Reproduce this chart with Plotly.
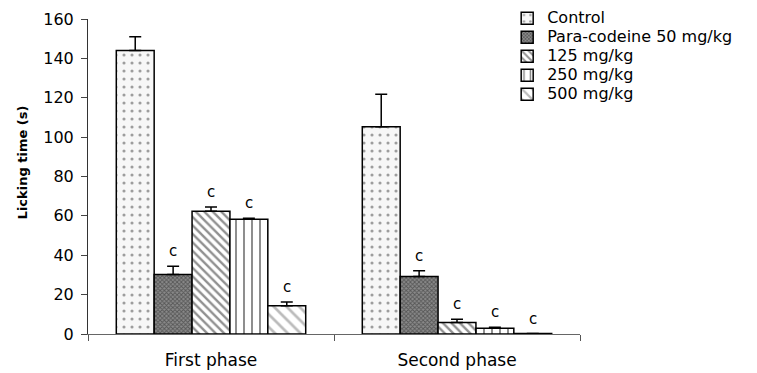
import plotly.graph_objects as go

phases = ["First phase", "Second phase"]
groups = ["Control", "Para-codeine 50 mg/kg", "125 mg/kg", "250 mg/kg", "500 mg/kg"]

# mean licking time (s) per group, [first phase, second phase]
control = [144.0, 105.3]
para_50 = [30.2, 29.2]
para_125 = [62.3, 5.9]
para_250 = [58.3, 2.9]
para_500 = [14.3, 0.2]

# upper error (SEM)
control_err = [7.0, 16.5]
para_50_err = [4.2, 2.9]
para_125_err = [2.2, 1.6]
para_250_err = [0.5, 0.5]
para_500_err = [2.0, 0.0]

# significance letters
control_sig = ["", ""]
para_50_sig = ["c", "c"]
para_125_sig = ["c", "c"]
para_250_sig = ["c", "c"]
para_500_sig = ["c", "c"]

values = [control, para_50, para_125, para_250, para_500]
errors = [control_err, para_50_err, para_125_err, para_250_err, para_500_err]
sigs = [control_sig, para_50_sig, para_125_sig, para_250_sig, para_500_sig]

patterns = [
    dict(shape=".", fgcolor="#444444", bgcolor="#f7f7f7", size=8, solidity=0.12),
    dict(shape="x", fgcolor="#222222", bgcolor="#8a8a8a", size=3, solidity=0.5),
    dict(shape="\\", fgcolor="#222222", bgcolor="white", size=6, solidity=0.4),
    dict(shape="|", fgcolor="black", bgcolor="white", size=8, solidity=0.22),
    dict(shape="\\", fgcolor="#777777", bgcolor="white", size=9, solidity=0.3),
]

FONT = "DejaVu Sans, Liberation Sans, Arial, sans-serif"

bargap = 0.23
n = len(groups)
w = (1 - bargap) / n

fig = go.Figure()
annotations = []
for k, (name, vals, errs, sig, pat) in enumerate(zip(groups, values, errors, sigs, patterns)):
    xs = [i + (k - (n - 1) / 2) * w for i in range(len(phases))]
    fig.add_trace(go.Bar(
        x=xs, y=vals, width=w,
        # legend rows keep a compact pitch while the label itself is larger
        name='<span style="font-size:16px">%s</span>' % name,
        marker=dict(color=pat["bgcolor"], pattern=pat,
                    line=dict(color="black", width=1.5)),
        error_y=dict(type="data", symmetric=False, array=errs,
                     arrayminus=[0] * len(errs), color="black",
                     thickness=1.5, width=6),
    ))
    for x, v, e, s in zip(xs, vals, errs, sig):
        if s:
            annotations.append(dict(x=x, y=v + e, text=s, showarrow=False,
                                    yanchor="bottom", yshift=4,
                                    font=dict(size=15, color="black")))

# y-axis title, placed as a rotated label beside the tick labels
annotations.append(dict(
    text="<b>Licking time (s)</b>", textangle=-90, showarrow=False,
    xref="paper", yref="paper", x=-0.134, y=0.545,
    xanchor="center", yanchor="middle", font=dict(size=13, color="black"),
))

fig.update_layout(
    width=757, height=373,
    margin=dict(l=88, r=177, t=19, b=39, autoexpand=False),
    paper_bgcolor="white", plot_bgcolor="white",
    font=dict(family=FONT, color="black", size=14),
    bargap=bargap,
    showlegend=True,
    legend=dict(x=0.852, y=0.99, xanchor="left", yanchor="top",
                yref="container",
                font=dict(size=12), bgcolor="rgba(0,0,0,0)",
                tracegroupgap=0, itemwidth=30),
    annotations=annotations,
    xaxis=dict(
        range=[-0.5, len(phases) - 0.5],
        tickmode="array", tickvals=list(range(len(phases))), ticktext=phases,
        ticks="", showline=True, linecolor="#666666", linewidth=1,
        showgrid=False, zeroline=False, tickfont=dict(size=17),
        ticklabelstandoff=11,
        minor=dict(tickmode="linear", tick0=-0.5, dtick=1, ticks="outside",
                   ticklen=6, tickcolor="#555555", showgrid=False),
    ),
    yaxis=dict(
        range=[0, 160], dtick=20, ticks="outside", ticklen=6,
        tickcolor="#444444", showline=True, linecolor="#333333", linewidth=1,
        showgrid=False, zeroline=False, tickfont=dict(size=16),
        ticklabelstandoff=4,
    ),
)

fig.write_html("out.html")
